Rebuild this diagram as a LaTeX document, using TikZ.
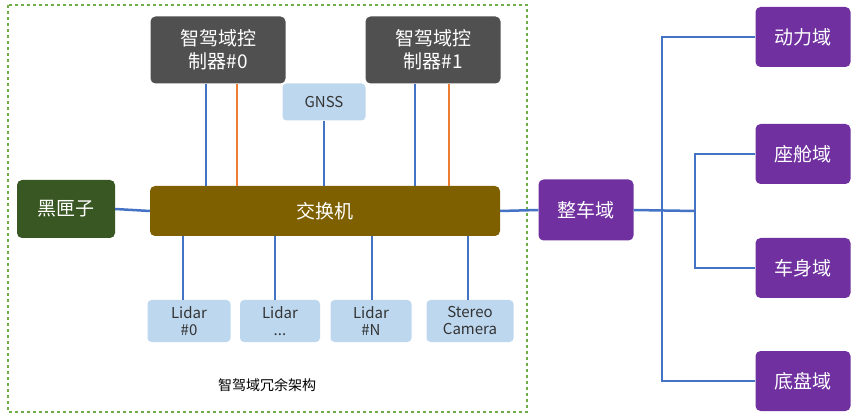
\documentclass[tikz,border=0pt]{standalone}
\usepackage{fontspec}
\setmainfont{Noto Sans CJK SC}
\usetikzlibrary{positioning}
\definecolor{gframe}{RGB}{112,173,71}
\definecolor{ctrlgray}{RGB}{80,80,80}
\definecolor{lblue}{RGB}{189,215,238}
\definecolor{swbrown}{RGB}{127,96,0}
\definecolor{boxgreen}{RGB}{56,87,35}
\definecolor{dompurple}{RGB}{112,48,160}
\definecolor{linkblue}{RGB}{68,114,196}
\definecolor{linkorange}{RGB}{237,125,49}

\begin{document}
\begin{tikzpicture}[x=1pt,y=-1pt,
  blk/.style={rounded corners=5pt,text=white,align=center,inner sep=0pt,
    font=\fontsize{19}{23}\selectfont},
  ctrl/.style={blk,fill=ctrlgray,minimum width=135pt,minimum height=67pt},
  dom/.style={blk,fill=dompurple,minimum width=95pt,minimum height=60pt},
  sens/.style={rounded corners=4pt,fill=lblue,text=black!80,align=center,inner sep=0pt,
    font=\fontsize{15}{17}\selectfont,minimum height=42pt},
  blue/.style={linkblue,line width=2.5pt},
  orange/.style={linkorange,line width=2.5pt}]

\useasboundingbox (0,0) rectangle (864,419);
\draw[gframe,dashed,line width=1.2pt] (8,5) rectangle (527,412);

\node[ctrl]  (c0) at (218,50)   {智驾域控\\制器\#0};
\node[ctrl]  (c1) at (433,50)   {智驾域控\\制器\#1};
\node[sens,minimum width=83pt,minimum height=37pt] (gnss) at (324,102) {GNSS};
\node[blk,fill=swbrown,minimum width=350pt,minimum height=50pt] (sw) at (325,211) {交换机};
\node[blk,fill=boxgreen,minimum width=98pt,minimum height=58pt] (bb) at (66,209) {黑匣子};
\node[dom,minimum height=61pt] (veh) at (586,210) {整车域};

\node[dom] (pwr)  at (803,37)  {动力域};
\node[dom] (cab)  at (803,154) {座舱域};
\node[dom] (body) at (803,268) {车身域};
\node[dom] (chs)  at (803,381) {底盘域};

\node[sens,minimum width=83pt] (l0) at (189,321) {Lidar\\\#0};
\node[sens,minimum width=80pt] (l1) at (280,321) {Lidar\\...};
\node[sens,minimum width=81pt] (ln) at (371,321) {Lidar\\\#N};
\node[sens,minimum width=87pt] (cam) at (470,321) {Stereo\\Camera};

\node[font=\fontsize{14}{16}\selectfont] (title) at (267,385) {智驾域冗余架构};

% controllers to switch
\draw[blue]   (c0.south -| 206,0) -- (sw.north -| 206,0);
\draw[orange] (c0.south -| 237,0) -- (sw.north -| 237,0);
\draw[blue]   (c1.south -| 415,0) -- (sw.north -| 415,0);
\draw[orange] (c1.south -| 449,0) -- (sw.north -| 449,0);
\draw[blue]   (gnss) -- (gnss |- sw.north);
% sensors
\foreach \s/\x in {l0/183,l1/275,ln/372,cam/468}
  \draw[blue] (sw.south -| \x,0) -- (\s.north -| \x,0);
\draw[blue] (bb.east) -- (sw.west);
\draw[blue] (sw.east) -- (veh.west);
% domains
\coordinate (j1) at (662,211);
\coordinate (j2) at (695,211);
\draw[blue] (veh.east) -- (j2);
\draw[blue] (pwr.west) -| (j1) |- (chs.west);
\draw[blue] (cab.west) -| (j2) |- (body.west);
\end{tikzpicture}
\end{document}
